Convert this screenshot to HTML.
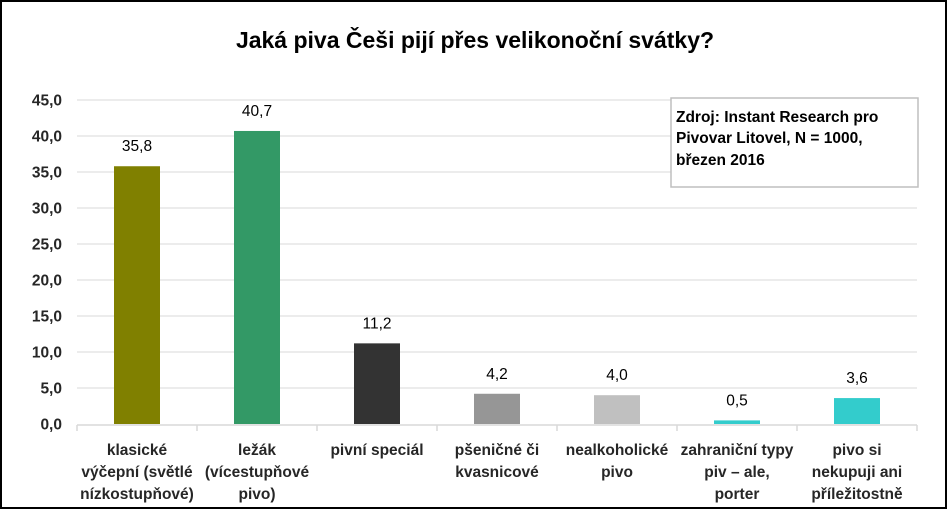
<!DOCTYPE html>
<html><head><meta charset="utf-8"><style>
html,body{margin:0;padding:0;background:#fff;}
svg{display:block;font-family:"Liberation Sans",sans-serif;}
</style></head><body>
<svg id="c" width="949" height="511">
<rect x="1" y="1" width="945" height="507" fill="#fff" stroke="#000" stroke-width="2"/>
<text x="475" y="48" text-anchor="middle" font-size="23" font-weight="bold" fill="#000">Jaká piva Češi pijí přes velikonoční svátky?</text>
<g id="grid"></g><g id="bars"></g>
<rect x="671" y="98" width="247" height="89" fill="#fff" stroke="#bfbfbf" stroke-width="1.5"/>
<text font-size="15.5" font-weight="bold" fill="#000">
<tspan x="676" y="122">Zdroj: Instant Research pro</tspan>
<tspan x="676" y="143">Pivovar Litovel, N = 1000,</tspan>
<tspan x="676" y="165">březen 2016</tspan></text>
</svg>
<script>
const categories=[["klasické","výčepní (světlé","nízkostupňové)"],["ležák","(vícestupňové","pivo)"],["pivní speciál"],["pšeničné či","kvasnicové"],["nealkoholické","pivo"],["zahraniční typy","piv – ale,","porter"],["pivo si","nekupuji ani","příležitostně"]];
const values=[35.8,40.7,11.2,4.2,4.0,0.5,3.6];
const valueLabels=["35,8","40,7","11,2","4,2","4,0","0,5","3,6"];
const ticks=[0,5,10,15,20,25,30,35,40,45];
const tickLabels=["0,0","5,0","10,0","15,0","20,0","25,0","30,0","35,0","40,0","45,0"];
const colors=["#808000","#339966","#333333","#969696","#c0c0c0","#33cccc","#33cccc"];
const NS="http://www.w3.org/2000/svg";
const L=77,R=917,Y0=424,Y45=100;
const y=v=>Y0-(v/45)*(Y0-Y45);
const bw=(R-L)/categories.length;
const x=i=>L+bw*i+bw/2;
function mk(t,a,p){const e=document.createElementNS(NS,t);for(const k in a)e.setAttribute(k,a[k]);p.appendChild(e);return e;}
const g=document.getElementById('grid'),b=document.getElementById('bars');
ticks.forEach((t,i)=>{
 if(t>0){const l=mk('line',{x1:L,x2:R,y1:y(t),y2:y(t),stroke:'#e6e6e6','stroke-width':1.5},g);
 
 }
 const tx=mk('text',{x:62,y:y(t)+5.5,'text-anchor':'end','font-size':15.5,'font-weight':'bold',fill:'#262626'},g);
 tx.textContent=tickLabels[i];
 
 
});
const ax=mk('line',{x1:L,x2:R,y1:Y0+1,y2:Y0+1,stroke:'#d9d9d9','stroke-width':1.5},g);


for(let i=0;i<=categories.length;i++){
 const tk=mk('line',{x1:L+bw*i,x2:L+bw*i,y1:Y0+1,y2:Y0+7,stroke:'#d9d9d9','stroke-width':1.5},g);
 
 
}
values.forEach((v,i)=>{
 const r=mk('rect',{x:x(i)-23,y:y(v),width:46,height:Y0-y(v),fill:colors[i]},b);
 
 
 const t=mk('text',{x:x(i),y:y(v)-15,'text-anchor':'middle','font-size':15.5,fill:'#000'},b);
 t.textContent=valueLabels[i];
 
 
 const c=mk('text',{'text-anchor':'middle','font-size':15.5,'font-weight':'bold',fill:'#262626'},b);
 
 
 categories[i].forEach((ln,j)=>{const s=mk('tspan',{x:x(i),y:455+j*22},c);s.textContent=ln;});
});
</script>
</body></html>
